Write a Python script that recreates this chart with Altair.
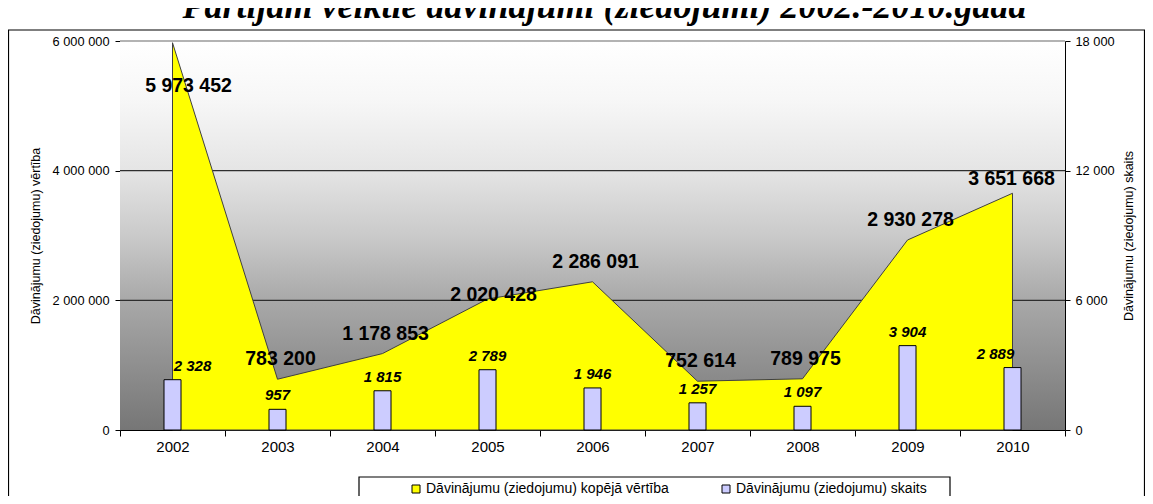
import altair as alt
import pandas as pd

years = ["2002", "2003", "2004", "2005", "2006", "2007", "2008", "2009", "2010"]
total_value = [5973452, 783200, 1178853, 2020428, 2286091, 752614, 789975, 2930278, 3651668]
donation_count = [2328, 957, 1815, 2789, 1946, 1257, 1097, 3904, 2889]

left_ticks = [0, 2000000, 4000000, 6000000]
right_ticks = [0, 6000, 12000, 18000]
grid_values = [2000000, 4000000]
top_value = [6000000]

series_names = ["Dāvinājumu (ziedojumu) kopējā vērtība", "Dāvinājumu (ziedojumu) skaits"]
series_colors = ["#FFFF00", "#CCCCFF"]

title_text = "Partijām veiktie dāvinājumi (ziedojumi) 2002.-2010.gadā"
left_title = "Dāvinājumu (ziedojumu) vērtība"
right_title = "Dāvinājumu (ziedojumu) skaits"

df = pd.DataFrame({"year": years, "value": total_value, "count": donation_count})
grid_df = pd.DataFrame({"value": grid_values})
top_df = pd.DataFrame({"value": top_value})

FONT = "Liberation Sans"
W, H = 945, 389

x_axis = alt.Axis(title=None, labelAngle=0, tickBand="extent", tickSize=6, labelPadding=3,
                  labelFont=FONT, labelFontSize=15, labelColor="black",
                  domainColor="black", tickColor="black", grid=False)
x_scale = alt.Scale(type="band", paddingInner=0, paddingOuter=0)
x_center = alt.X("year:N", scale=x_scale, axis=x_axis, bandPosition=0.5)
x_bar = alt.X("year:N", scale=x_scale, axis=x_axis)

left_axis = alt.Axis(values=left_ticks, format=",d", title=left_title, grid=False,
                     labelFont=FONT, labelFontSize=12.8, labelColor="black", labelPadding=6,
                     tickSize=5, tickColor="black", domainColor="black",
                     titleFont=FONT, titleFontSize=12.5, titleFontWeight="normal",
                     titleColor="black", titlePadding=10)
y_left = alt.Y("value:Q", scale=alt.Scale(domain=[0, 6000000], nice=False), axis=left_axis)

right_axis = alt.Axis(values=right_ticks, format=",d", title=right_title, orient="right", grid=False,
                      labelFont=FONT, labelFontSize=12.8, labelColor="black", labelPadding=5,
                      tickSize=5, tickColor="black", domainColor="black",
                      titleFont=FONT, titleFontSize=12.5, titleFontWeight="normal",
                      titleColor="black", titlePadding=8, titleAngle=270, titleBaseline="top")
y_right = alt.Y("count:Q", scale=alt.Scale(domain=[0, 18000], nice=False), axis=right_axis)

one = alt.Data(values=[{}])

frame = alt.Chart(one).mark_rect(fillOpacity=0, stroke="black", strokeWidth=1.2).encode(
    x=alt.value(-111.5), x2=alt.value(1024.5), y=alt.value(-11), y2=alt.value(480))

legend_box = alt.Chart(one).mark_rect(fill="white", stroke="black", strokeWidth=1.2).encode(
    x=alt.value(239), x2=alt.value(830), y=alt.value(436), y2=alt.value(480))

title_mark = alt.Chart(one).mark_text(
    text=title_text, font="Liberation Serif", fontSize=36, fontStyle="italic", fontWeight="bold",
    color="black", align="center", baseline="alphabetic").encode(
    x=alt.value(W / 2 + 12), y=alt.value(-23))

gradient = alt.Gradient(gradient="linear", x1=0, x2=0, y1=0, y2=1, stops=[
    alt.GradientStop(offset=0, color="#ffffff"),
    alt.GradientStop(offset=0.15, color="#f7f7f7"),
    alt.GradientStop(offset=0.33, color="#e5e5e5"),
    alt.GradientStop(offset=0.5, color="#cacaca"),
    alt.GradientStop(offset=0.67, color="#a8a8a8"),
    alt.GradientStop(offset=1, color="#767676"),
])
bg = alt.Chart(one).mark_rect(fill=gradient).encode(
    x=alt.value(0), x2=alt.value("width"), y=alt.value(0), y2=alt.value("height"))

grid = alt.Chart(grid_df).mark_rule(color="#2e2e2e", strokeWidth=1.2).encode(y=y_left)
top_line = alt.Chart(top_df).mark_rule(color="#9a9a9a", strokeWidth=1.5).encode(y=y_left)

color_scale = alt.Scale(domain=series_names, range=series_colors)
legend = alt.Legend(orient="none", legendX=289, legendY=441, direction="horizontal", title=None,
                    symbolType="square", symbolSize=64, symbolStrokeColor="black",
                    symbolStrokeWidth=1, labelFont=FONT, labelFontSize=14, labelColor="black",
                    labelLimit=400, columnPadding=50, labelOffset=3, padding=0)
color_area = alt.Color("series:N", scale=color_scale, legend=legend)
color_bar = alt.Color("series:N", scale=color_scale, legend=legend)

base = alt.Chart(df)
area = base.transform_calculate(series=f"'{series_names[0]}'").mark_area(
    stroke="#404040", strokeWidth=1, opacity=1).encode(x=x_center, y=y_left, color=color_area)

area_txt_style = dict(fontWeight="bold", fontSize=19.5, font=FONT, color="black")
area_labels_mid = base.transform_filter(
    "datum.year != '2002' && datum.year != '2010' && datum.year != '2005'").mark_text(
    baseline="bottom", dy=-10, dx=3, **area_txt_style).encode(
    x=x_center, y=y_left, text=alt.Text("value:Q", format=",d"))
area_label_2005 = base.transform_filter("datum.year == '2005'").mark_text(
    baseline="bottom", dy=6, dx=6, **area_txt_style).encode(
    x=x_center, y=y_left, text=alt.Text("value:Q", format=",d"))
area_label_first = base.transform_filter("datum.year == '2002'").mark_text(
    baseline="middle", dy=43, dx=16, **area_txt_style).encode(
    x=x_center, y=y_left, text=alt.Text("value:Q", format=",d"))
area_label_last = base.transform_filter("datum.year == '2010'").mark_text(
    baseline="bottom", dy=-4, dx=-1, **area_txt_style).encode(
    x=x_center, y=y_left, text=alt.Text("value:Q", format=",d"))

bars = base.transform_calculate(series=f"'{series_names[1]}'").mark_bar(
    size=17, stroke="black", strokeWidth=1, opacity=1).encode(x=x_bar, y=y_right, color=color_bar)

bar_txt_style = dict(fontWeight="bold", fontStyle="italic", fontSize=15, font=FONT,
                     color="black", baseline="bottom")
bar_labels_mid = base.transform_filter(
    "datum.year != '2002' && datum.year != '2010'").mark_text(dy=-6, **bar_txt_style).encode(
    x=x_center, y=y_right, text=alt.Text("count:Q", format=",d"))
bar_label_first = base.transform_filter("datum.year == '2002'").mark_text(
    dy=-6, dx=20, **bar_txt_style).encode(
    x=x_center, y=y_right, text=alt.Text("count:Q", format=",d"))
bar_label_last = base.transform_filter("datum.year == '2010'").mark_text(
    dy=-6, dx=-17, **bar_txt_style).encode(
    x=x_center, y=y_right, text=alt.Text("count:Q", format=",d"))

left_group = alt.layer(frame, legend_box, title_mark, bg, grid, top_line, area,
                       area_labels_mid, area_label_2005, area_label_first, area_label_last)
right_group = alt.layer(bars, bar_labels_mid, bar_label_first, bar_label_last)

chart = alt.layer(left_group, right_group).resolve_scale(y="independent").properties(
    width=W, height=H,
    autosize=alt.AutoSizeParams(type="none"),
    padding={"left": 112, "top": 33, "right": 80, "bottom": 66},
).configure(
    locale={"number": {"decimal": ",", "thousands": " ", "grouping": [3], "currency": ["", " €"]}}
).configure_view(stroke=None)

chart.save("out.html", embed_options={"renderer": "svg", "actions": False})
